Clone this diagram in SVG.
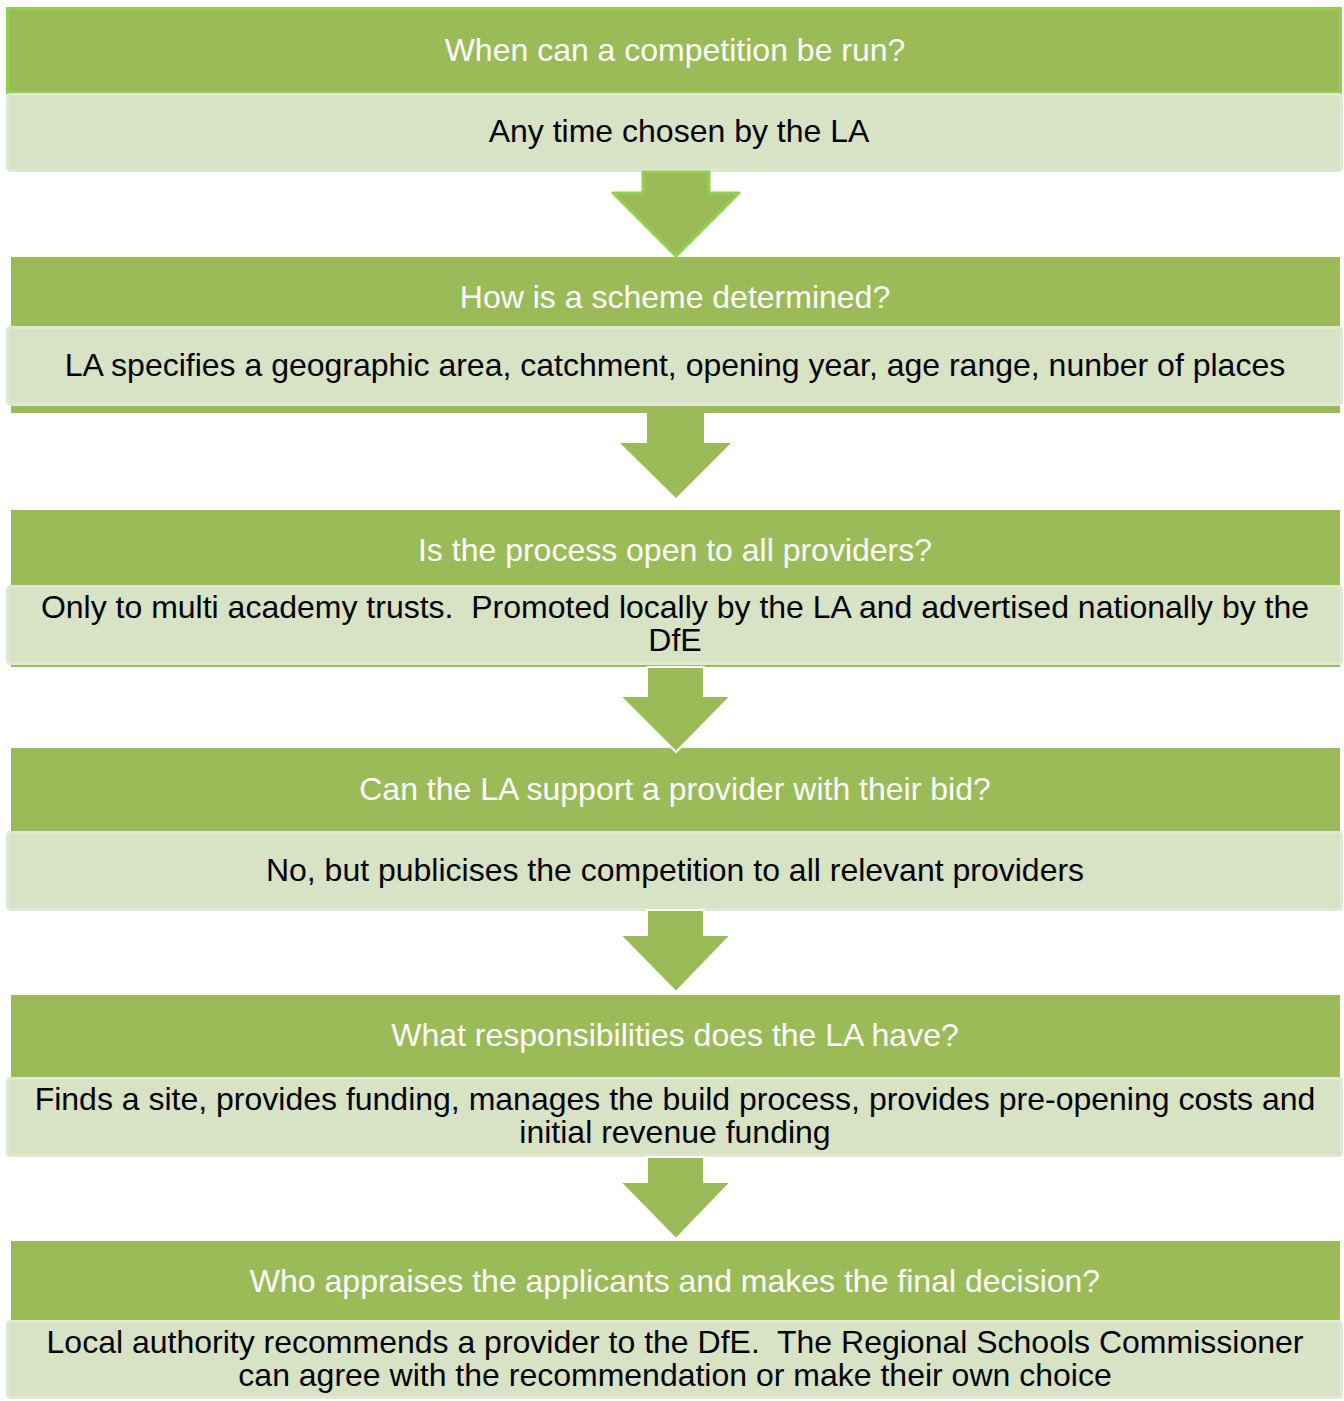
<svg xmlns="http://www.w3.org/2000/svg" width="1344" height="1401" viewBox="0 0 1344 1401">
<style>
.hd{fill:#9BBB59}
.lt{fill:#D8E2C5;stroke:#DFE8D2;stroke-width:3}
.ht{font-family:"Liberation Sans",Arial,sans-serif;font-size:32px;fill:#FFFFFF;text-anchor:middle}
.bt{font-family:"Liberation Sans",Arial,sans-serif;font-size:32px;fill:#000000;text-anchor:middle}
.ar{fill:#9BBB59}
</style>
<rect width="1344" height="1401" fill="#FFFFFF"/>
<g id="node1">
<rect x="7.5" y="8.5" width="1333" height="84" class="hd" stroke="#92D050" stroke-width="3"/>
<rect x="7.5" y="94.5" width="1334" height="76" rx="3" class="lt"/>
<text x="675" y="61" class="ht">When can a competition be run?</text>
<text x="679" y="142" class="bt">Any time chosen by the LA</text>
</g>
<g id="node2">
<rect x="11" y="257" width="1329" height="156" class="hd"/>
<rect x="7.5" y="327.5" width="1334" height="77" rx="3" class="lt"/>
<text x="675" y="308" class="ht">How is a scheme determined?</text>
<text x="675" y="376" class="bt">LA specifies a geographic area, catchment, opening year, age range, nunber of places</text>
</g>
<g id="node3">
<rect x="11" y="510" width="1329" height="157" class="hd"/>
<rect x="7.5" y="586.5" width="1334" height="77" rx="3" class="lt"/>
<text x="675" y="561" class="ht">Is the process open to all providers?</text>
<text x="675" y="618" class="bt" xml:space="preserve">Only to multi academy trusts.  Promoted locally by the LA and advertised nationally by the</text>
<text x="675" y="651" class="bt">DfE</text>
</g>
<g id="node4">
<rect x="11" y="748" width="1329" height="84" class="hd"/>
<rect x="7.5" y="832.5" width="1334" height="77" rx="3" class="lt"/>
<text x="675" y="800" class="ht">Can the LA support a provider with their bid?</text>
<text x="675" y="881" class="bt">No, but publicises the competition to all relevant providers</text>
</g>
<g id="node5">
<rect x="11" y="995" width="1329" height="83" class="hd"/>
<rect x="7.5" y="1078.5" width="1334" height="77" rx="3" class="lt"/>
<text x="675" y="1046" class="ht">What responsibilities does the LA have?</text>
<text x="675" y="1110" class="bt">Finds a site, provides funding, manages the build process, provides pre-opening costs and</text>
<text x="675" y="1143" class="bt">initial revenue funding</text>
</g>
<g id="node6">
<rect x="11" y="1241" width="1329" height="80" class="hd"/>
<rect x="7.5" y="1321.5" width="1334" height="76" rx="3" class="lt"/>
<text x="675" y="1292" class="ht">Who appraises the applicants and makes the final decision?</text>
<text x="675" y="1353" class="bt" xml:space="preserve">Local authority recommends a provider to the DfE.  The Regional Schools Commissioner</text>
<text x="675" y="1386" class="bt">can agree with the recommendation or make their own choice</text>
</g>
<g id="connectors">
<polygon points="643,172 709,172 709,193 739,193 676,256 613,193 643,193" fill="#9BBB59" stroke="#92D050" stroke-width="3" stroke-linejoin="round"/>
<polygon points="647,413 704,413 704,443 731,443 676,498 620,443 647,443" class="ar"/>
<polygon points="647,667 704,667 704,696 731,696 676,752 620,696 647,696" class="ar" stroke="#FFFFFF" stroke-width="2"/>
<polygon points="647,910 704,910 704,935 731,935 676,992 620,935 647,935" class="ar" stroke="#FFFFFF" stroke-width="2"/>
<polygon points="647,1157 704,1157 704,1182 731,1182 676,1239 620,1182 647,1182" class="ar" stroke="#FFFFFF" stroke-width="2"/>
</g>
</svg>
